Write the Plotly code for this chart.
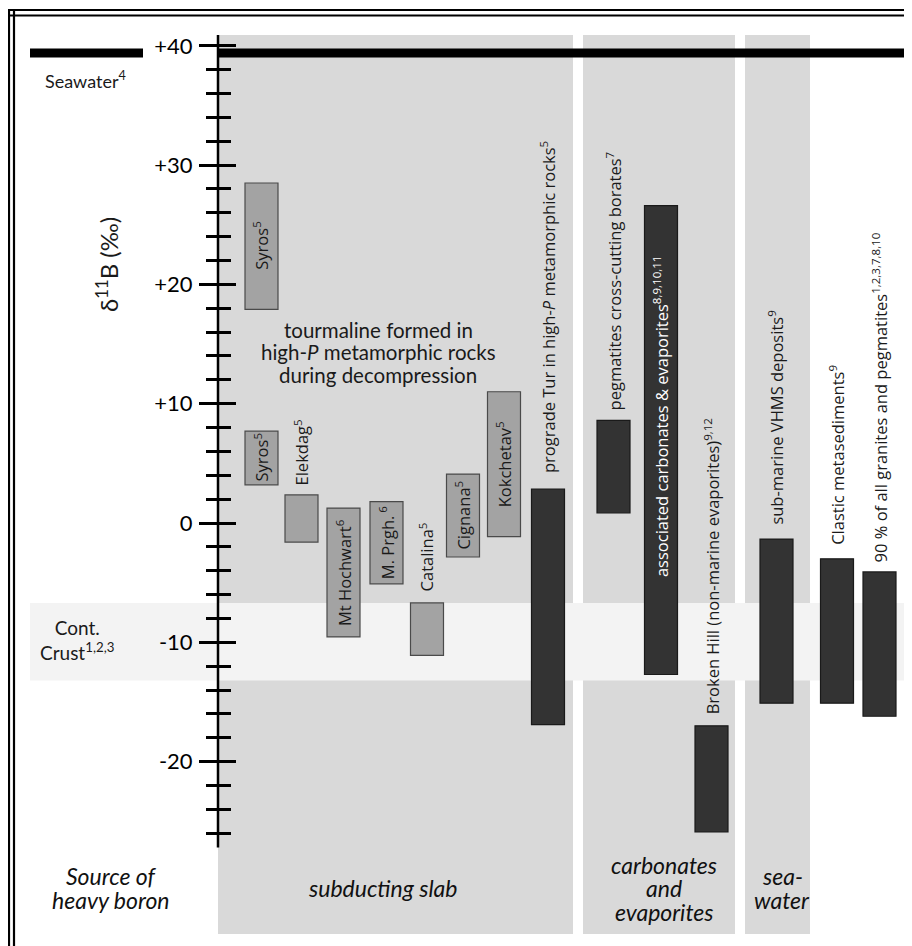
import plotly.graph_objects as go

# The page body has an 8px margin, so the figure is drawn 8px in from the corner.
OFF = 8
W, H = 912 - OFF, 946 - OFF

# ---------------- data ----------------
site_names = ["Syros", "Syros", "Elekdag", "Mt Hochwart", "M. Prgh.", "Catalina", "Cignana", "Kokchetav",
              "prograde Tur in high-<i>P</i> metamorphic rocks", "pegmatites cross-cutting borates",
              "associated carbonates &amp; evaporites", "Broken Hill (non-marine evaporites)",
              "sub-marine VHMS deposits", "Clastic metasediments", "90 % of all granites and pegmatites"]
site_refs = ["5", "5", "5", "6", " 6", "5", "5", "5", "5", "7", "8,9,10,11", "9,12", "9", "9", "1,2,3,7,8,10"]
d11B_min = [17.9, 3.2, -1.6, -9.55, -5.1, -11.1, -2.85, -1.15, -16.9, 0.85, -12.7, -25.9, -15.1, -15.1, -16.2]
d11B_max = [28.5, 7.7, 2.35, 1.25, 1.8, -6.7, 4.1, 11.0, 2.85, 8.6, 26.6, -17.0, -1.35, -3.0, -4.1]
is_decompression = [True] * 8 + [False] * 7

seawater = 39.4
crust_min, crust_max = -13.2, -6.7

major_ticks = [-20, -10, 0, 10, 20, 30, 40]
major_tick_text = ["-20", "-10", "0", "+10", "+20", "+30", "+40"]
minor_ticks = [-26, -24, -22, -18, -16, -14, -12, -8, -6, -4, -2, 2, 4, 6, 8, 12, 14, 16, 18,
               22, 24, 26, 28, 32, 34, 36, 38]

source_groups = ["subducting slab", "carbonates<br>and<br>evaporites", "sea-<br>water"]

# ---------------- layout constants (page pixels) ----------------
bar_x = [261.5, 261.5, 301.5, 343.5, 386.5, 427, 463, 504, 548, 613.5, 661, 711.5, 776.5, 837, 879.5]
label_inside = [True, True, False, True, True, False, True, True, False, False, True, False, False, False, False]
label_shift = [0, 0, 8, 0, 0, 10, 0, 0, 15, 9, 24, 10, 13, 13, 8]
BAR_W = 33
PX_PER_UNIT = 11.93
ZERO_PX = 523 - OFF
yrange = [-(H - ZERO_PX) / PX_PER_UNIT, ZERO_PX / PX_PER_UNIT]
AXIS_X = 218

panel_x = [(218, 573), (583, 735), (745, 810)]
group_label_pos = [(383, 888), (664, 888), (782, 888)]


def py(px):
    """page pixel (from top) -> paper fraction"""
    return 1 - (px - OFF) / H


LIGHT = "#a3a3a3"
DARK = "#333333"
PANEL = "#d9d9d9"
BAND = "#f3f3f3"
LABEL_FONT = "Open Sans"
MAIN_FONT = "Lato"

fig = go.Figure()

for flag, col, edge in [(True, LIGHT, "#4a4a4a"), (False, DARK, "#1a1a1a")]:
    idx = [i for i in range(len(site_names)) if is_decompression[i] == flag]
    fig.add_trace(go.Bar(
        x=[bar_x[i] for i in idx],
        base=[d11B_min[i] for i in idx],
        y=[d11B_max[i] - d11B_min[i] for i in idx],
        width=BAR_W,
        marker=dict(color=col, line=dict(color=edge, width=1.2)),
        hoverinfo="skip",
        showlegend=False,
    ))

# carrier for the second (inside-tick) axis
fig.add_trace(go.Scatter(x=[None], y=[None], yaxis="y2", showlegend=False, hoverinfo="skip"))

shapes = []
for x0, x1 in panel_x:
    shapes.append(dict(type="rect", xref="x", yref="paper", x0=x0, x1=x1, y0=py(934), y1=py(35),
                       fillcolor=PANEL, line=dict(width=0), layer="below"))
shapes.append(dict(type="rect", xref="x", yref="y", x0=30, x1=908, y0=crust_min, y1=crust_max,
                   fillcolor=BAND, line=dict(width=0), layer="below"))
shapes.append(dict(type="line", xref="x", yref="y", x0=30, x1=143, y0=seawater, y1=seawater,
                   line=dict(color="black", width=9)))
shapes.append(dict(type="line", xref="x", yref="y", x0=AXIS_X, x1=908, y0=seawater, y1=seawater,
                   line=dict(color="black", width=9)))
shapes.append(dict(type="line", xref="x", yref="y", x0=AXIS_X, x1=AXIS_X, y0=-27.2, y1=40.9,
                   line=dict(color="black", width=2.5)))
for xp in [9, 14]:
    shapes.append(dict(type="line", xref="x", yref="paper", x0=xp, x1=xp, y0=0, y1=py(9),
                       line=dict(color="black", width=2.2)))
for ypx in [10, 15.5]:
    shapes.append(dict(type="line", xref="x", yref="paper", x0=8, x1=912, y0=py(ypx), y1=py(ypx),
                       line=dict(color="black", width=2.2)))

ann = []
for i, name in enumerate(site_names):
    txt = f"{name}<sup>{site_refs[i]}</sup>"
    if label_inside[i]:
        ann.append(dict(x=bar_x[i], y=(d11B_min[i] + d11B_max[i]) / 2, xref="x", yref="y",
                        text=txt, textangle=-90, showarrow=False, xanchor="center", yanchor="middle",
                        yshift=label_shift[i],
                        font=dict(family=LABEL_FONT, size=16.5,
                                  color="white" if not is_decompression[i] else "#1a1a1a")))
    else:
        ann.append(dict(x=bar_x[i], y=d11B_max[i], xref="x", yref="y",
                        text=txt, textangle=-90, showarrow=False, xanchor="center", yanchor="bottom",
                        yshift=label_shift[i], borderpad=0,
                        font=dict(family=LABEL_FONT, size=16.5, color="#1a1a1a")))

for k, line in enumerate(["tourmaline formed in", "high-<i>P</i> metamorphic rocks",
                          "during decompression"]):
    ann.append(dict(x=378, y=py(330 + 22.5 * k), xref="x", yref="paper", text=line, showarrow=False,
                    xanchor="center", yanchor="middle", font=dict(family=MAIN_FONT, size=20.5, color="#1a1a1a")))

ann.append(dict(x=43, y=py(80), xref="x", yref="paper", text="Seawater<sup>4</sup>", showarrow=False,
                xanchor="left", yanchor="middle", font=dict(family=MAIN_FONT, size=18, color="#1a1a1a")))
ann.append(dict(x=77, y=py(640), xref="x", yref="paper", text="Cont.<br>Crust<sup>1,2,3</sup>",
                showarrow=False, xanchor="center", yanchor="middle", align="center",
                font=dict(family=MAIN_FONT, size=19, color="#1a1a1a")))

ann.append(dict(x=107, y=py(265), xref="x", yref="paper", text="δ<sup>11</sup>B (‰)", textangle=-90,
                showarrow=False, xanchor="center", yanchor="middle",
                font=dict(family=MAIN_FONT, size=24, color="#1a1a1a")))


def italic_block(text, cx, cy, spacing=23.5):
    lines = text.split("<br>")
    n = len(lines)
    for k, line in enumerate(lines):
        ann.append(dict(x=cx, y=py(cy + (k - (n - 1) / 2) * spacing), xref="x", yref="paper",
                        text=f"<i>{line}</i>", showarrow=False, xanchor="center", yanchor="middle",
                        font=dict(family=MAIN_FONT, size=23, color="#111")))


italic_block("Source of<br>heavy boron", 111, 888)
for g, (cx, cy) in zip(source_groups, group_label_pos):
    italic_block(g, cx, cy)

axis_common = dict(range=yrange, anchor="free", position=(AXIS_X - OFF) / W, showgrid=False,
                   zeroline=False, showline=False, tickvals=major_ticks, tickwidth=2.5, tickcolor="black")

fig.update_layout(
    width=W, height=H,
    margin=dict(l=0, r=0, t=0, b=0),
    paper_bgcolor="white", plot_bgcolor="white",
    barmode="overlay",
    xaxis=dict(range=[OFF, OFF + W], domain=[0, 1], visible=False, fixedrange=True),
    yaxis=dict(**axis_common, ticktext=major_tick_text, ticks="outside", ticklen=19,
               tickfont=dict(family=MAIN_FONT, size=22, color="black"), ticklabelstandoff=2,
               minor=dict(tickvals=minor_ticks, ticks="outside", ticklen=12, tickwidth=2.5,
                          tickcolor="black", showgrid=False)),
    yaxis2=dict(**axis_common, overlaying="y", side="left", ticks="inside", ticklen=17,
                showticklabels=False,
                minor=dict(tickvals=minor_ticks, ticks="inside", ticklen=12, tickwidth=2.5,
                           tickcolor="black", showgrid=False)),
    shapes=shapes,
    annotations=ann,
    showlegend=False,
)

fig.write_html("out.html")
